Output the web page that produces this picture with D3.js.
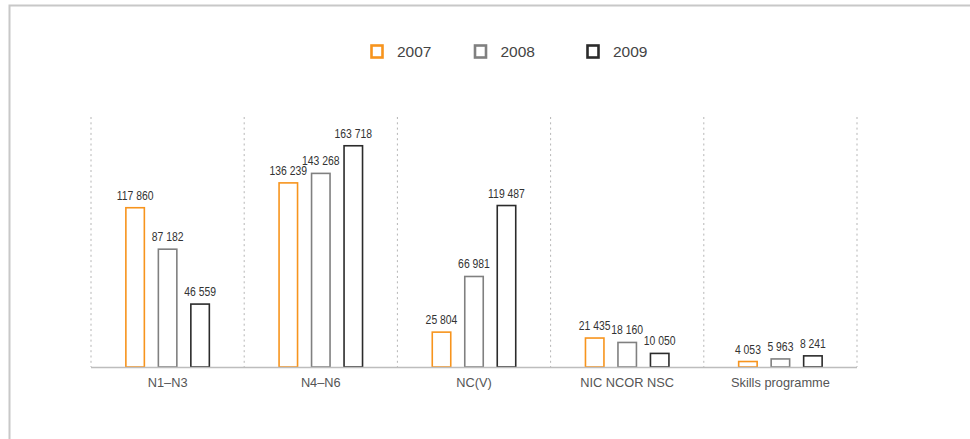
<!DOCTYPE html>
<html>
<head>
<meta charset="utf-8">
<script src="https://cdn.jsdelivr.net/npm/d3@7"></script>
<style>
  body { margin: 0; background: #fff; }
  svg { display: block; }
  .value { font-family: "Liberation Sans", Arial, sans-serif; font-size: 13px; fill: #333; }
  .cat { font-family: "Liberation Sans", Arial, sans-serif; font-size: 12.8px; fill: #555; }
  .legend text { font-family: "Liberation Sans", Arial, sans-serif; font-size: 15.5px; fill: #444; }
</style>
</head>
<body>
<svg id="chart" width="970" height="439"></svg>
<script>
// chart data
const categories = ["N1–N3", "N4–N6", "NC(V)", "NIC NCOR NSC", "Skills programme"];
const years = ["2007", "2008", "2009"];
const values2007 = [117860, 136239, 25804, 21435, 4053];
const values2008 = [87182, 143268, 66981, 18160, 5963];
const values2009 = [46559, 163718, 119487, 10050, 8241];
const seriesValues = [values2007, values2008, values2009];
const colours = ["#f7941d", "#808080", "#2b2b2b"];

const svg = d3.select("#chart");

// frame (top and left edges only, as in the original)
svg.append("path")
  .attr("d", "M9.5,439 V5.5 H970")
  .attr("fill", "none")
  .attr("stroke", "#c8c8c8")
  .attr("stroke-width", 2);

const plotLeft = 91, plotRight = 857, plotTop = 117, plotBottom = 367;

const x0 = d3.scaleBand().domain(categories).range([plotLeft, plotRight]).padding(0);
const x1 = d3.scaleBand().domain(years).range([0, x0.bandwidth()])
  .paddingInner(0.385).paddingOuter(1.05);
const y = d3.scaleLinear().domain([0, 185000]).range([plotBottom, plotTop]);

// dashed separators
const seps = categories.map(c => x0(c)).concat([plotRight]);
svg.append("g").selectAll("line")
  .data(seps)
  .join("line")
  .attr("x1", d => d).attr("x2", d => d)
  .attr("y1", plotTop).attr("y2", plotBottom)
  .attr("stroke", "#b5b5b5")
  .attr("stroke-width", 1)
  .attr("stroke-dasharray", "2,3.3");

// flatten rows for the bars
const rows = [];
categories.forEach((c, i) => {
  years.forEach((yr, j) => {
    rows.push({ cat: c, year: yr, value: seriesValues[j][i], colour: colours[j] });
  });
});

const bars = svg.append("g");
bars.selectAll("rect")
  .data(rows)
  .join("rect")
  .attr("x", d => x0(d.cat) + x1(d.year) + 0.75)
  .attr("y", d => y(d.value))
  .attr("width", x1.bandwidth() - 1.5)
  .attr("height", d => plotBottom - y(d.value))
  .attr("fill", "#fff")
  .attr("stroke", d => d.colour)
  .attr("stroke-width", 1.6);

// value labels: condensed look by squeezing the text horizontally
const fmt = v => d3.format(",")(v).replace(/,/g, " ");
bars.selectAll("text")
  .data(rows)
  .join("text")
  .attr("class", "value")
  .attr("transform", d =>
    `translate(${x0(d.cat) + x1(d.year) + x1.bandwidth() / 2},${y(d.value) - 8}) scale(0.8,1)`)
  .attr("text-anchor", "middle")
  .text(d => fmt(d.value));

// baseline
svg.append("line")
  .attr("x1", plotLeft).attr("x2", plotRight)
  .attr("y1", plotBottom + 0.5).attr("y2", plotBottom + 0.5)
  .attr("stroke", "#bdbdbd")
  .attr("stroke-width", 1.5);

// category labels
svg.append("g").selectAll("text")
  .data(categories)
  .join("text")
  .attr("class", "cat")
  .attr("x", d => x0(d) + x0.bandwidth() / 2)
  .attr("y", 387)
  .attr("text-anchor", "middle")
  .text(d => d);

// legend
const legendX = [370, 473.5, 586];
const legend = svg.append("g").attr("class", "legend")
  .selectAll("g")
  .data(years)
  .join("g")
  .attr("transform", (d, i) => `translate(${legendX[i]},44)`);
legend.append("rect")
  .attr("x", 1.5).attr("y", 1.5)
  .attr("width", 11).attr("height", 12)
  .attr("fill", "#fff")
  .attr("stroke", (d, i) => colours[i])
  .attr("stroke-width", 2.6);
legend.append("text")
  .attr("x", 27)
  .attr("y", 13.3)
  .text(d => d);
</script>
</body>
</html>
